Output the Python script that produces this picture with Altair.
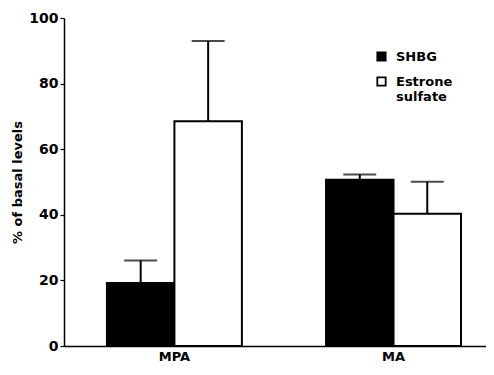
import altair as alt
import pandas as pd

categories = ["MPA", "MPA", "MA", "MA"]
series = ["SHBG", "Estrone sulfate", "SHBG", "Estrone sulfate"]
values = [19.2, 68.5, 50.7, 40.3]
err_top = [26.1, 93.0, 52.3, 50.1]

df = pd.DataFrame({"cat": categories, "series": series, "value": values, "top": err_top})

FONT = "DejaVu Sans"
x = alt.X("cat:N", sort=["MPA", "MA"], title=None,
          scale=alt.Scale(paddingInner=0.384, paddingOuter=0.155, align=0.632),
          axis=alt.Axis(labelAngle=0, ticks=False, domainColor="black", domainWidth=1.5,
                        labelFont=FONT, labelFontWeight="bold", labelFontSize=13,
                        labelColor="black", labelPadding=4))
xo = alt.XOffset("series:N", sort=["SHBG", "Estrone sulfate"],
                 scale=alt.Scale(paddingInner=0, paddingOuter=0))
y = alt.Y("value:Q", scale=alt.Scale(domain=[0, 100], nice=False),
          title="% of basal levels",
          axis=alt.Axis(values=list(range(0, 101, 10)), grid=False,
                        labelExpr="datum.value % 20 == 0 ? datum.label : ''",
                        tickColor="black", tickSize=4, tickWidth=1.2,
                        domainColor="black", domainWidth=1.5,
                        labelFont=FONT, labelFontWeight="bold", labelFontSize=14,
                        labelColor="black", labelPadding=2,
                        titleFont=FONT, titleFontWeight="bold", titleFontSize=13,
                        titleColor="black", titlePadding=4))

bars = alt.Chart(df).mark_bar(stroke="black", strokeWidth=2).encode(
    x=x, xOffset=xo, y=y,
    fill=alt.Fill("series:N", sort=["SHBG", "Estrone sulfate"],
                  scale=alt.Scale(domain=["SHBG", "Estrone sulfate"], range=["black", "white"]),
                  legend=alt.Legend(title=None, orient="none", legendX=311, legendY=32,
                                    symbolType="square", symbolSize=70, symbolStrokeColor="black",
                                    symbolStrokeWidth=1.8, labelFont=FONT, labelFontWeight="bold",
                                    labelFontSize=13, labelColor="black", rowPadding=8,
                                    labelOffset=8,
                                    labelExpr="datum.label == 'Estrone sulfate' ? ['Estrone', 'sulfate'] : datum.label",
                                    labelLimit=200)),
)

rules = alt.Chart(df).mark_rule(color="black", strokeWidth=2).encode(
    x=x, xOffset=xo, y="value:Q", y2="top:Q"
)
caps = alt.Chart(df).mark_tick(color="black", thickness=2, size=33, orient="horizontal").encode(
    x=x, xOffset=xo, y="top:Q"
)

chart = alt.layer(bars, rules, caps).properties(
    width=422, height=328,
    autosize=alt.AutoSizeParams(type="none"),
    padding={"left": 56, "top": 10, "right": 0, "bottom": 17},
).configure_view(stroke=None)

chart.save("out.html", embed_options={"renderer": "svg", "actions": False})
